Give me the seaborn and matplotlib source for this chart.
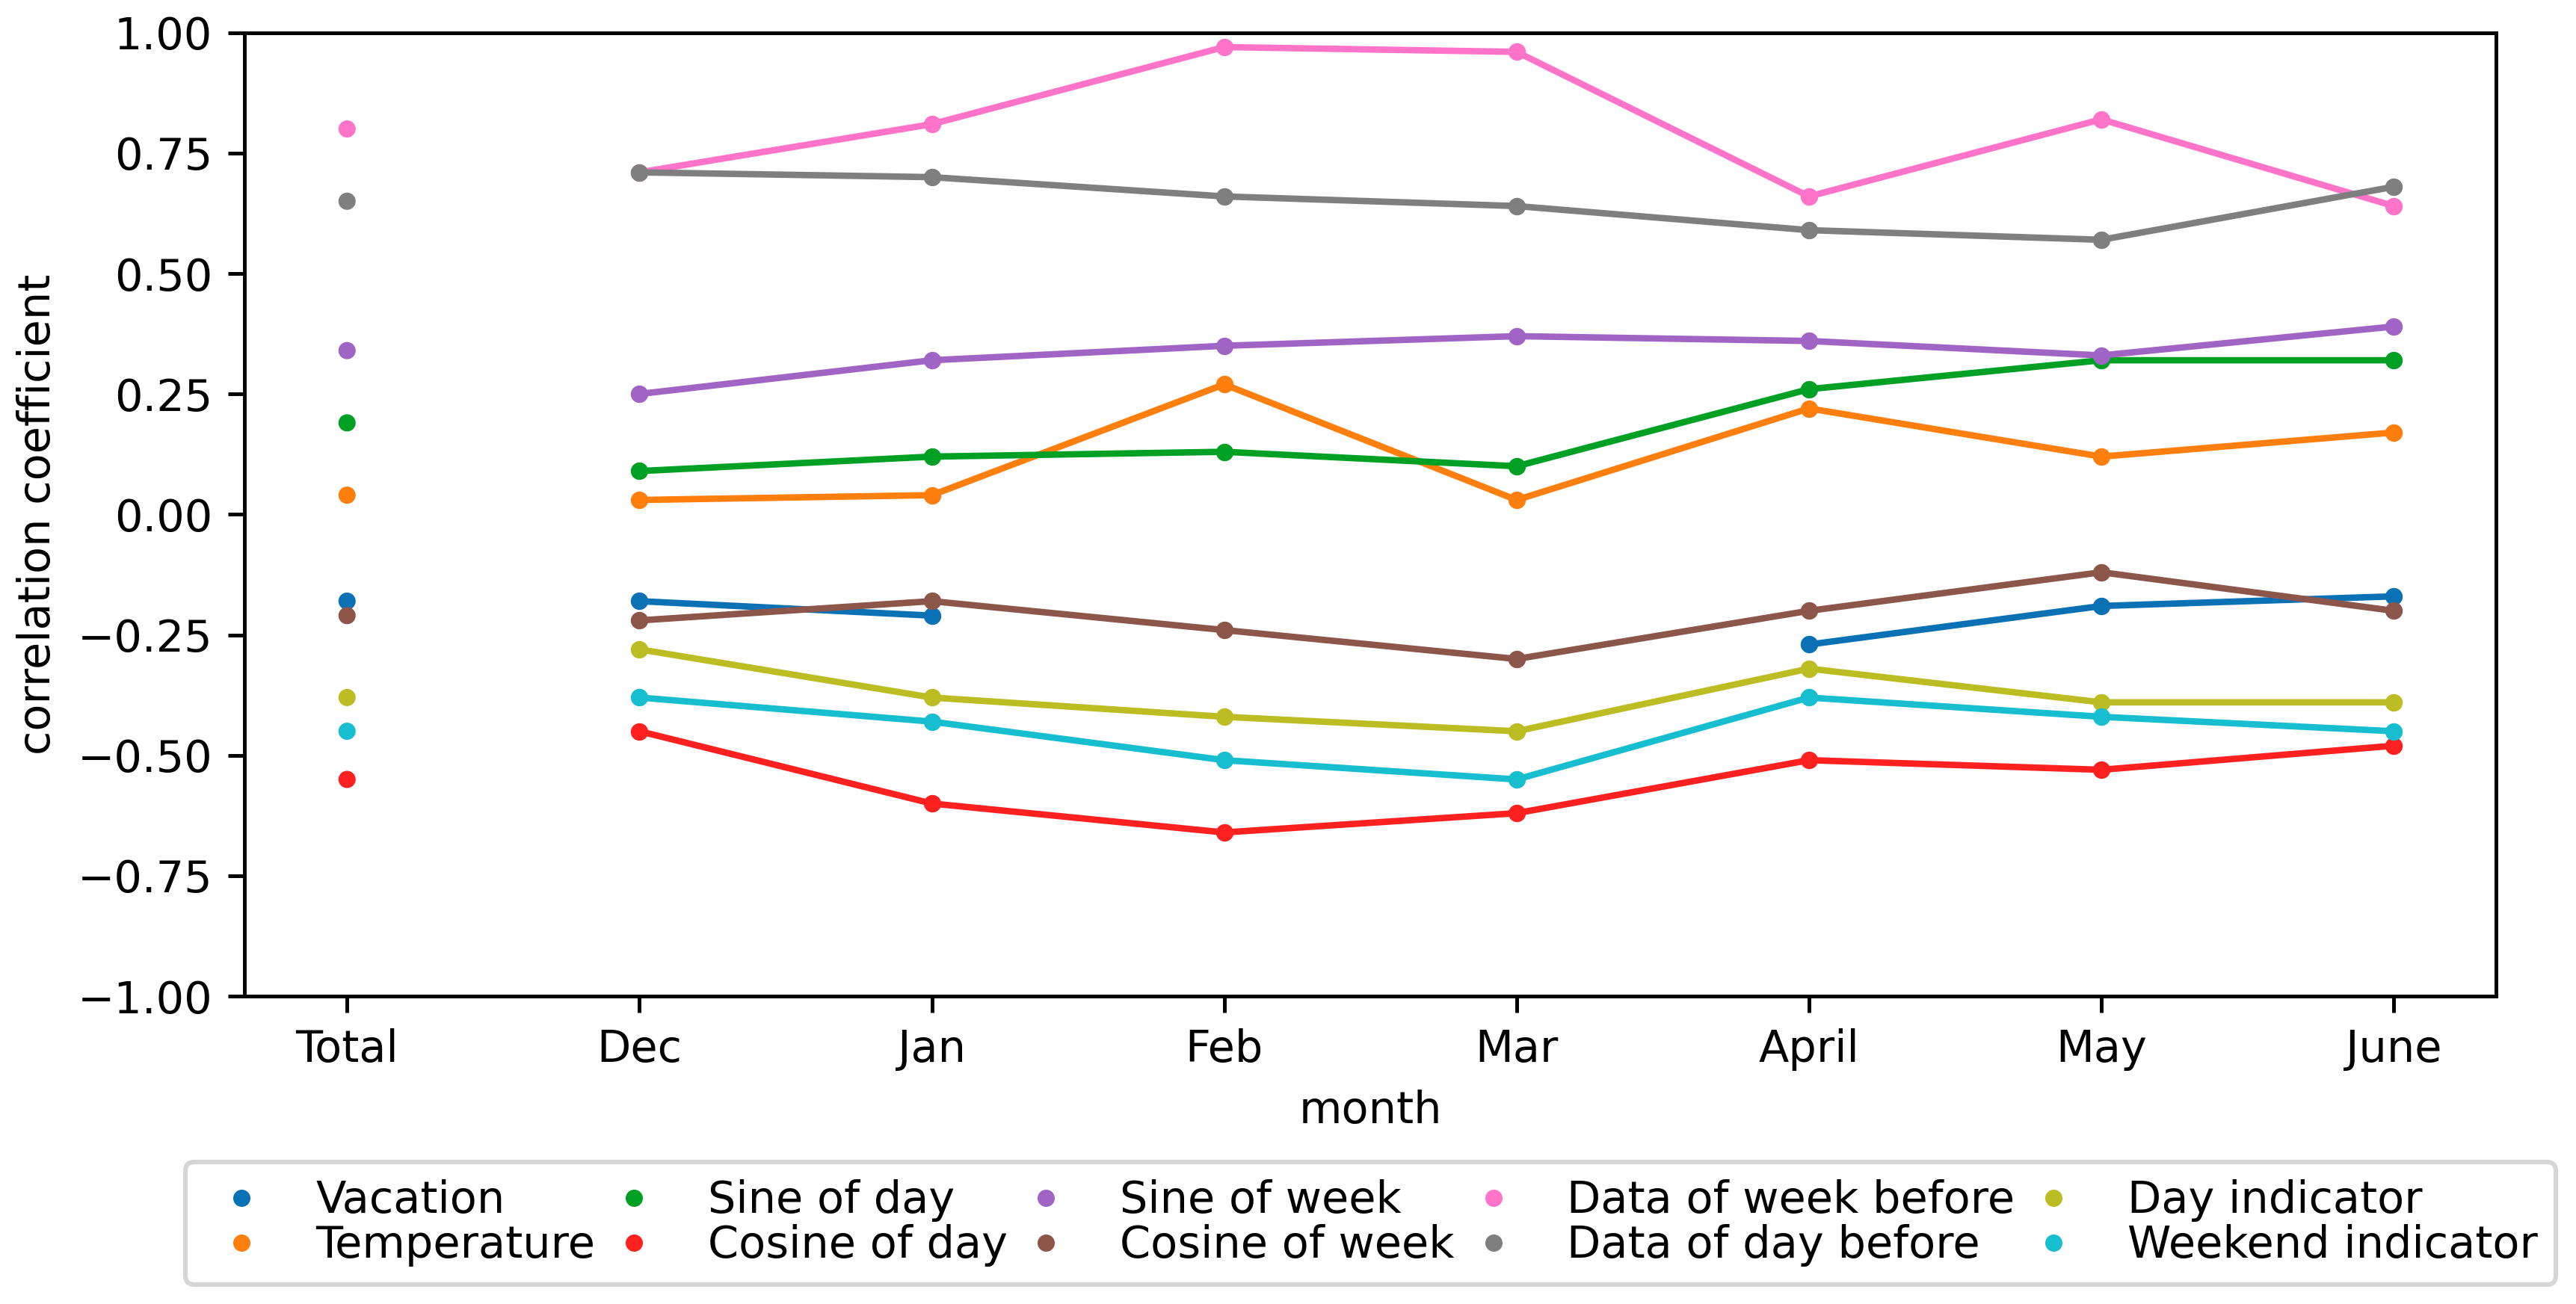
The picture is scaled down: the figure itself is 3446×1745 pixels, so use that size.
import numpy as np
import pandas as pd
import seaborn as sns
from matplotlib import pyplot as plt

months = ["Dec", "Jan", "Feb", "Mar", "April", "May", "June"]
tick_labels = ["Total"] + months
features = ["Vacation", "Temperature", "Sine of day", "Cosine of day", "Sine of week",
            "Cosine of week", "Data of week before", "Data of day before",
            "Day indicator", "Weekend indicator"]

# correlation over the whole period, one per feature (same order as features)
total = [-0.18, 0.04, 0.19, -0.55, 0.34, -0.21, 0.80, 0.65, -0.38, -0.45]

# monthly correlation, Dec..June
vacation = [-0.18, -0.21, np.nan, np.nan, -0.27, -0.19, -0.17]
temperature = [0.03, 0.04, 0.27, 0.03, 0.22, 0.12, 0.17]
sine_day = [0.09, 0.12, 0.13, 0.10, 0.26, 0.32, 0.32]
cosine_day = [-0.45, -0.60, -0.66, -0.62, -0.51, -0.53, -0.48]
sine_week = [0.25, 0.32, 0.35, 0.37, 0.36, 0.33, 0.39]
cosine_week = [-0.22, -0.18, -0.24, -0.30, -0.20, -0.12, -0.20]
week_before = [0.71, 0.81, 0.97, 0.96, 0.66, 0.82, 0.64]
day_before = [0.71, 0.70, 0.66, 0.64, 0.59, 0.57, 0.68]
day_indicator = [-0.28, -0.38, -0.42, -0.45, -0.32, -0.39, -0.39]
weekend_indicator = [-0.38, -0.43, -0.51, -0.55, -0.38, -0.42, -0.45]

monthly_values = [vacation, temperature, sine_day, cosine_day, sine_week,
                  cosine_week, week_before, day_before, day_indicator, weekend_indicator]

colors = ["#0a72b4", "#ff7f0e", "#00a024", "#ff2020", "#a064c4",
          "#8c564b", "#ff74c8", "#7f7f7f", "#bcbd22", "#17becf"]
palette = dict(zip(features, colors))

# long form; a NaN starts a new segment so the line breaks there
rows = []
for feat, vals in zip(features, monthly_values):
    seg = 0
    for i, v in enumerate(vals):
        if np.isnan(v):
            seg += 1
            continue
        rows.append({"feature": feat, "pos": i + 1, "value": v, "segment": seg})
monthly = pd.DataFrame(rows)

tot = pd.DataFrame({"feature": features, "pos": 0, "value": total})

plt.rcParams["font.size"] = 9.6

dpi = 443
fig, ax = plt.subplots(figsize=(3446 / dpi, 1745 / dpi), dpi=dpi)
fig.subplots_adjust(left=0.095, right=0.969, top=0.975, bottom=0.236)

sns.lineplot(data=monthly, x="pos", y="value", hue="feature", hue_order=features,
             units="segment", estimator=None, palette=palette, marker="o",
             markersize=3.8, markeredgewidth=0, linewidth=1.4, legend=False, ax=ax)
sns.scatterplot(data=tot, x="pos", y="value", hue="feature", hue_order=features,
                palette=palette, s=14, linewidth=0, ax=ax)

ax.set_ylim(-1, 1)
ax.set_yticks(np.arange(-1, 1.01, 0.25))
ax.set_xticks(range(len(tick_labels)))
ax.set_xticklabels(tick_labels)
ax.set_xlabel("month")
ax.set_ylabel("correlation coefficient")

handles, labels = ax.get_legend_handles_labels()
ax.legend(handles, labels, loc="upper center", bbox_to_anchor=(0.5, -0.149),
          ncol=5, frameon=True, handlelength=1.75, columnspacing=0.0,
          labelspacing=0.05)

fig.savefig("out.png", dpi=dpi)
